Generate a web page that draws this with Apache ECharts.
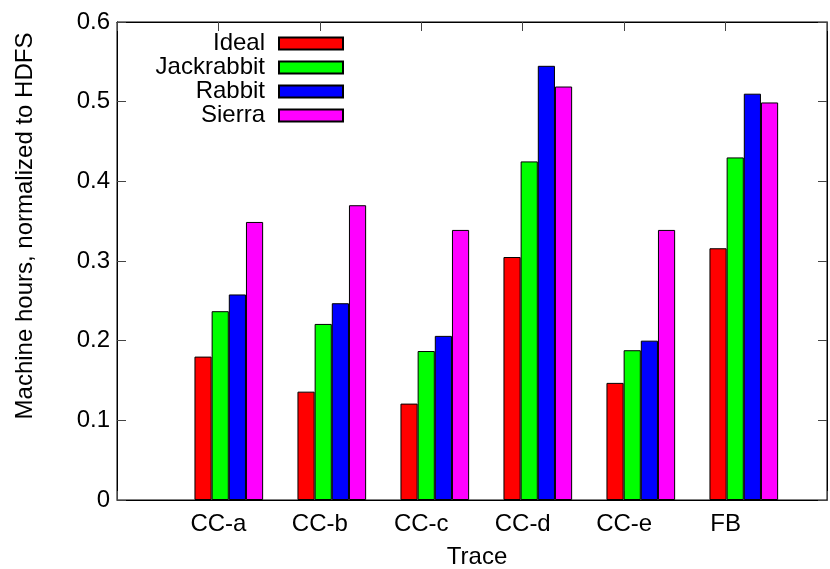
<!DOCTYPE html>
<html>
<head>
<meta charset="utf-8">
<script src="https://cdn.jsdelivr.net/npm/echarts@6/dist/echarts.min.js"></script>
<style>
html,body{margin:0;padding:0;background:#fff;}
#chart{width:830px;height:569px;}
</style>
</head>
<body>
<div id="chart"></div>
<script>
const categories = ['CC-a', 'CC-b', 'CC-c', 'CC-d', 'CC-e', 'FB'];
const seriesNames = ['Ideal', 'Jackrabbit', 'Rabbit', 'Sierra'];
const ideal      = [0.180, 0.136, 0.121, 0.305, 0.147, 0.316];
const jackrabbit = [0.237, 0.221, 0.187, 0.425, 0.188, 0.430];
const rabbit     = [0.258, 0.247, 0.206, 0.545, 0.200, 0.510];
const sierra     = [0.349, 0.370, 0.339, 0.519, 0.339, 0.499];
const yTicks = [0, 0.1, 0.2, 0.3, 0.4, 0.5, 0.6];
const colors = ['#ff0000', '#00ff00', '#0000ff', '#ff00ff'];
const seriesValues = [ideal, jackrabbit, rabbit, sierra];

const FONT = '"Liberation Sans", Arial, Helvetica, sans-serif';
const chart = echarts.init(document.getElementById('chart'), null, {renderer: 'canvas'});

const frame = {left: 117, top: 22, width: 721, height: 478};
const slot = frame.width / 7;
const clusterShift = 8.8;
const barGrid = {left: frame.left + slot * 0.5 + clusterShift, top: 22, width: slot * 6, height: 478};

const axisCommon = {
  axisLine: {show: true, onZero: false, lineStyle: {color: '#000', width: 1}},
  axisTick: {show: true, inside: true, length: 9, lineStyle: {color: '#444'}},
  splitLine: {show: false}
};

const option = {
  animation: false,
  backgroundColor: '#fff',
  textStyle: {fontFamily: FONT},
  grid: [
    {left: frame.left, top: frame.top, width: frame.width, height: frame.height,
     show: true, borderColor: '#000', borderWidth: 1, backgroundColor: 'transparent'},
    {left: barGrid.left, top: barGrid.top, width: barGrid.width, height: barGrid.height}
  ],
  xAxis: [
    Object.assign({type: 'value', gridIndex: 0, min: -1, max: 6, interval: 1, position: 'bottom',
     axisLabel: {color: '#000', fontSize: 24, fontFamily: FONT, margin: 12,
       formatter: v => (v >= 0 && v < categories.length) ? categories[v] : ''}}, axisCommon),
    Object.assign({type: 'value', gridIndex: 0, min: -1, max: 6, interval: 1, position: 'top',
     axisLabel: {show: false}}, axisCommon),
    {type: 'category', gridIndex: 1, data: categories, show: false}
  ],
  yAxis: [
    Object.assign({type: 'value', gridIndex: 0, min: 0, max: 0.6, interval: 0.1, position: 'left',
     axisLabel: {color: '#000', fontSize: 24, fontFamily: FONT, margin: 7,
       formatter: v => { const t = yTicks.find(x => Math.abs(x - v) < 1e-9); return t === 0 ? '0' : (t !== undefined ? t.toFixed(1) : ''); }}}, axisCommon),
    Object.assign({type: 'value', gridIndex: 0, min: 0, max: 0.6, interval: 0.1, position: 'right',
     axisLabel: {show: false}}, axisCommon),
    {type: 'value', gridIndex: 1, min: 0, max: 0.6, show: false}
  ],
  legend: {
    orient: 'vertical', align: 'right', right: 486, top: 31.5, padding: 0,
    itemWidth: 64, itemHeight: 12, itemGap: 0, icon: 'rect',
    data: seriesNames,
    textStyle: {color: '#000', fontSize: 24, fontFamily: FONT, padding: [0, 9, 0, 0], lineHeight: 24}
  },
  graphic: [
    {type: 'text', x: 25, y: 226, rotation: Math.PI / 2,
     style: {text: 'Machine hours, normalized to HDFS', fill: '#000', font: '24px ' + FONT,
             textAlign: 'center', textVerticalAlign: 'middle'}},
    {type: 'text', x: 477, y: 557,
     style: {text: 'Trace', fill: '#000', font: '24px ' + FONT,
             textAlign: 'center', textVerticalAlign: 'middle'}}
  ],
  series: seriesNames.map((name, i) => ({
    name: name, type: 'bar', xAxisIndex: 2, yAxisIndex: 2,
    data: seriesValues[i],
    barGap: '0%', barCategoryGap: '33.33%',
    itemStyle: {color: colors[i], borderColor: '#000', borderWidth: 1},
    emphasis: {disabled: true}
  }))
};
chart.setOption(option);
</script>
</body>
</html>
